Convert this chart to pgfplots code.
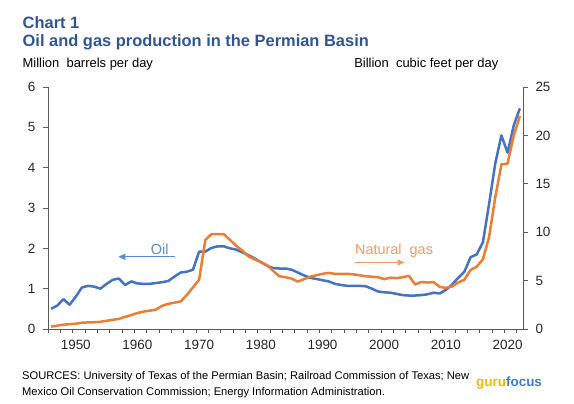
\documentclass[border=0pt]{standalone}
\usepackage{fontspec}
\setmainfont{Liberation Sans}
\usepackage{pgfplots}
\usepackage{pgfplotstable}
\pgfplotsset{compat=1.18}
\usetikzlibrary{arrows.meta}
\definecolor{oilblue}{HTML}{4472C4}
\definecolor{gasorange}{HTML}{ED7D31}
\definecolor{titleblue}{HTML}{2F5597}
\definecolor{axisgray}{HTML}{595959}
\definecolor{oillabel}{HTML}{5B8BD6}
\definecolor{gaslabel}{HTML}{F39A5E}

\pgfplotstableread{
year oil gas
1946 0.50 0.25
1947 0.58 0.35
1948 0.74 0.45
1949 0.60 0.50
1950 0.80 0.55
1951 1.03 0.65
1952 1.07 0.68
1953 1.05 0.70
1954 1.00 0.75
1955 1.12 0.85
1956 1.22 0.95
1957 1.25 1.05
1958 1.09 1.25
1959 1.18 1.45
1960 1.13 1.65
1961 1.12 1.80
1962 1.12 1.90
1963 1.14 2.00
1964 1.16 2.40
1965 1.19 2.60
1966 1.30 2.72
1967 1.40 2.85
1968 1.42 3.50
1969 1.47 4.30
1970 1.92 5.10
1971 1.92 9.20
1972 2.01 9.80
1973 2.05 9.80
1974 2.05 9.80
1975 2.00 9.20
1976 1.97 8.60
1977 1.90 8.10
1978 1.83 7.50
1979 1.75 7.20
1980 1.66 6.90
1981 1.57 6.60
1982 1.51 6.00
1983 1.50 5.45
1984 1.50 5.35
1985 1.47 5.20
1986 1.40 4.90
1987 1.33 5.15
1988 1.27 5.40
1989 1.24 5.55
1990 1.21 5.70
1991 1.18 5.80
1992 1.12 5.70
1993 1.09 5.70
1994 1.07 5.70
1995 1.07 5.65
1996 1.07 5.55
1997 1.06 5.45
1998 1.00 5.40
1999 0.93 5.35
2000 0.91 5.15
2001 0.90 5.30
2002 0.87 5.25
2003 0.84 5.35
2004 0.83 5.50
2005 0.83 4.60
2006 0.84 4.85
2007 0.86 4.80
2008 0.90 4.85
2009 0.88 4.35
2010 0.97 4.25
2011 1.10 4.40
2012 1.27 4.80
2013 1.42 5.10
2014 1.78 6.10
2015 1.85 6.45
2016 2.15 7.20
2017 3.10 9.50
2018 4.10 13.60
2019 4.80 17.00
2020 4.37 17.10
2021 5.05 20.00
2022 5.47 22.00
}\datatable

\pgfplotsset{
  commonaxis/.style={
    at={(0bp,0bp)}, anchor=south west,
    scale only axis, width=475bp, height=242bp,
    xmin=1945.5, xmax=2022.5, ymin=0,
    clip=false,
    axis line style={axisgray, line width=0.8bp, -},
    tick style={axisgray, line width=0.8bp},
    major tick length=5bp, minor tick length=4bp,
    tick align=outside,
    tick label style={font=\fontsize{13.5}{13.5}\selectfont, text=black!85},
    /pgf/number format/assume math mode=true,
    /pgf/number format/1000 sep={},
  }
}

\begin{document}
\begin{tikzpicture}
\useasboundingbox (-48bp,-75bp) rectangle (526bp,329bp);
\begin{axis}[commonaxis,
  ymax=6, ytick={0,1,...,6},
  axis y line*=left, axis x line*=bottom,
  xtick={1950,1960,...,2020},
  major x tick style={draw=none},
  minor xtick={1945.5,1947.5,...,2021.5},
  xticklabel style={yshift=-3bp},
  yticklabel style={xshift=-4bp},
]
\addplot[oilblue, line width=2.5bp, line join=round] table[x=year, y=oil]{\datatable};
\node[font=\fontsize{14.5}{14.5}\selectfont, text=oillabel] at (axis cs:1963.6,1.98) {Oil};
\draw[oillabel, line width=0.9bp, -{Triangle[length=7bp, width=6bp]}] (axis cs:1966.1,1.79) -- (axis cs:1956.9,1.79);
\node[font=\fontsize{14.5}{14.5}\selectfont, text=gaslabel] at (axis cs:2001.6,1.94) {Natural\ \ gas};
\draw[gaslabel, line width=0.9bp, -{Triangle[length=7bp, width=6bp]}] (axis cs:1995.3,1.65) -- (axis cs:2003.3,1.65);
\end{axis}
\begin{axis}[commonaxis,
  ymax=25, ytick={0,5,...,25},
  axis y line*=right, axis x line=none,
  xtick=\empty,
  yticklabel style={xshift=4bp},
]
\addplot[gasorange, line width=2.5bp, line join=round] table[x=year, y=gas]{\datatable};
\end{axis}
\node[anchor=base west, font=\fontsize{16.5}{16.5}\selectfont\bfseries, text=titleblue, inner sep=0pt] at (-25.5bp,300.5bp) {Chart 1};
\node[anchor=base west, font=\fontsize{16.5}{16.5}\selectfont\bfseries, text=titleblue, inner sep=0pt] at (-25.5bp,282.3bp) {Oil and gas production in the Permian Basin};
\node[anchor=base west, font=\fontsize{13}{13}\selectfont, inner sep=0pt] at (-25.5bp,261.5bp) {Million\ \ barrels per day};
\node[anchor=base east, font=\fontsize{13}{13}\selectfont, inner sep=0pt] at (450.5bp,261.5bp) {Billion\ \ cubic feet per day};
\node[anchor=base west, font=\fontsize{11.2}{11.2}\selectfont, inner sep=0pt] at (-26bp,-50bp) {SOURCES: University of Texas of the Permian Basin; Railroad Commission of Texas; New};
\node[anchor=base west, font=\fontsize{11.2}{11.2}\selectfont, inner sep=0pt] at (-26bp,-66bp) {Mexico Oil Conservation Commission; Energy Information Administration.};
\node[anchor=base west, font=\fontsize{13.5}{13.5}\selectfont\bfseries, inner sep=0pt] at (428bp,-57bp) {\textcolor[HTML]{F5B800}{guru}\textcolor[HTML]{3B7DC4}{focus}};
\end{tikzpicture}
\end{document}
